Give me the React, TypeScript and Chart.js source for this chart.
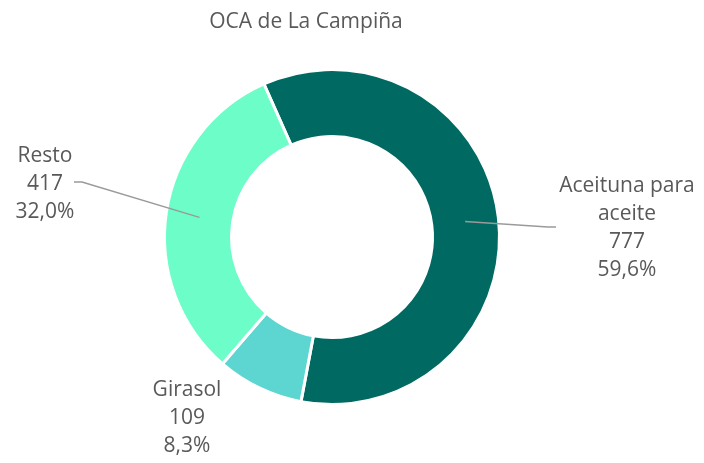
import React, { useEffect, useRef } from "react";
import { Chart, registerables } from "chart.js";

Chart.register(...registerables);

const categories = ["Aceituna para aceite", "Girasol", "Resto"];
const values = [777, 109, 417];
const percentLabels = ["59,6%", "8,3%", "32,0%"];
const labelLines = [["Aceituna para", "aceite"], ["Girasol"], ["Resto"]];
const colors = ["#006a62", "#5dd5d0", "#6cfdc9"];
const titleText = "OCA de La Campiña";

const FONT = "'Open Sans', sans-serif";
const TEXT_COLOR = "#595959";

// label anchors (layout only)
const labelAnchors = [
  { x: 627, y: 186, leader: [548, 227] },
  { x: 187, y: 390, leader: null },
  { x: 45, y: 156, leader: [82, 182] },
];

const labelPlugin = {
  id: "customLabels",
  afterDraw(chart: any) {
    const ctx = chart.ctx;
    const meta = chart.getDatasetMeta(0);
    ctx.save();
    ctx.fillStyle = TEXT_COLOR;
    ctx.font = `21px ${FONT}`;
    ctx.textAlign = "center";
    ctx.textBaseline = "middle";
    ctx.fillText(titleText, 306, 22);

    const lh = 28;
    meta.data.forEach((arc: any, i: number) => {
      const a = labelAnchors[i];
      if (a.leader) {
        const p = arc.tooltipPosition(false);
        ctx.strokeStyle = "#9a9a9a";
        ctx.lineWidth = 1.4;
        ctx.beginPath();
        ctx.moveTo(p.x, p.y);
        ctx.lineTo(a.leader[0], a.leader[1]);
        ctx.lineTo(a.leader[0] + (a.leader[0] > 332 ? 8 : -8), a.leader[1]);
        ctx.stroke();
      }
      const lines = [...labelLines[i], String(values[i]), percentLabels[i]];
      ctx.fillStyle = TEXT_COLOR;
      ctx.font = `21px ${FONT}`;
      ctx.textAlign = "center";
      ctx.textBaseline = "middle";
      lines.forEach((t, j) => ctx.fillText(t, a.x, a.y + j * lh));
    });
    ctx.restore();
  },
};

export default function App() {
  const ref = useRef<HTMLCanvasElement>(null);
  useEffect(() => {
    if (!ref.current) return;
    const chart = new Chart(ref.current, {
      type: "doughnut",
      data: {
        labels: categories,
        datasets: [
          {
            data: values,
            backgroundColor: colors,
            borderColor: "#ffffff",
            borderWidth: 3,
          },
        ],
      },
      options: {
        animation: false,
        responsive: false,
        rotation: -24,
        cutout: "60%",
        layout: { padding: { left: 163, right: 203, top: 68, bottom: 57 } },
        plugins: {
          legend: { display: false },
          tooltip: { enabled: false },
          title: { display: false },
        },
      },
      plugins: [labelPlugin],
    });
    return () => chart.destroy();
  }, []);
  return (
    <div style={{ position: "absolute", left: 0, top: 0, width: 704, height: 463, background: "#fff" }}>
      <canvas ref={ref} width={704} height={463} style={{ width: 704, height: 463 }} />
    </div>
  );
}
